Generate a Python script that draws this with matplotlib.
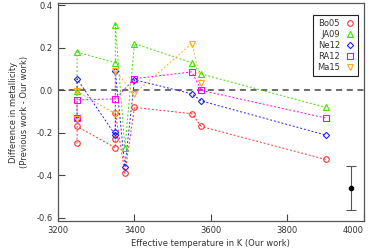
import matplotlib
matplotlib.use("Agg")
import matplotlib.pyplot as plt

# Data: (Teff, difference) for each comparison work, in the order they are joined
bo05_t = [3250, 3250, 3350, 3350, 3350, 3375, 3400, 3550, 3575, 3900]
bo05_d = [-0.25, -0.17, -0.27, -0.23, -0.105, -0.39, -0.08, -0.11, -0.17, -0.325]

ja09_t = [3250, 3250, 3350, 3350, 3375, 3400, 3550, 3575, 3900]
ja09_d = [-0.005, 0.18, 0.13, 0.31, -0.27, 0.22, 0.13, 0.077, -0.08]

ne12_t = [3250, 3250, 3350, 3350, 3350, 3375, 3400, 3550, 3575, 3900]
ne12_d = [-0.135, 0.054, -0.21, -0.195, 0.09, -0.36, 0.05, -0.016, -0.05, -0.21]

ra12_t = [3250, 3250, 3350, 3400, 3550, 3575, 3900]
ra12_d = [-0.13, -0.045, -0.04, 0.055, 0.087, 0.0, -0.13]

ma15_t = [3250, 3250, 3350, 3350, 3400, 3550, 3575]
ma15_d = [-0.135, -0.005, -0.11, 0.09, -0.015, 0.22, 0.035]

# typical uncertainty
err_t = 3965
err_d = -0.46
err_size = 0.105

plt.rcParams['font.family'] = 'DejaVu Sans'
plt.rcParams['font.size'] = 6
txt = '#333333'

fig = plt.figure(figsize=(3.74, 2.52), dpi=100)
ax = fig.add_axes([0.155, 0.123, 0.818, 0.864])

series = [
    ('Bo05', bo05_t, bo05_d, 'o', '#ff3030'),
    ('JA09', ja09_t, ja09_d, '^', '#3ee000'),
    ('Ne12', ne12_t, ne12_d, 'D', '#2020ff'),
    ('RA12', ra12_t, ra12_d, 's', '#ff00ff'),
    ('Ma15', ma15_t, ma15_d, 'v', '#ffaa22'),
]

ax.axhline(0, color='#444444', lw=1.1, ls=(0, (4, 3)), zorder=1)

for name, t, d, m, c in series:
    ms = 3.2 if m == 'D' else 4
    ax.plot(t, d, ls=(0, (2, 2)), lw=0.7, color=c, zorder=2)
    ax.plot(t, d, ls='none', marker=m, ms=ms, mfc='none', mec=c, mew=0.8,
            label=name, zorder=3)

ax.errorbar([err_t], [err_d], yerr=[err_size], fmt='o', color='black',
            ms=3, ecolor='#555555', elinewidth=0.8, capsize=3.5, capthick=0.8)

ax.set_xlim(3200, 4000)
ax.set_ylim(-0.615, 0.41)
ax.set_xticks([3200, 3400, 3600, 3800, 4000])
ax.set_yticks([0.4, 0.2, 0.0, -0.2, -0.4, -0.6])
ax.set_yticklabels(['0.4', '0.2', '0.0', '-0.2', '-0.4', '-0.6'])
ax.tick_params(direction='in', length=5, width=0.8, colors='#444444',
               labelcolor=txt, top=False, right=False)
ax.get_xticklabels()[-1].set_horizontalalignment('right')

for s in ax.spines.values():
    s.set_color('#555555')
    s.set_linewidth(0.9)

ax.set_xlabel('Effective temperature in K (Our work)', color=txt, labelpad=3)
ax.set_ylabel('Difference in metallicity\n(Previous work - Our work)',
              color=txt, labelpad=6)

leg = ax.legend(loc='upper right', markerfirst=False, handlelength=1.0,
                handletextpad=0.7, borderpad=0.45, labelspacing=0.25,
                borderaxespad=0, fancybox=False, framealpha=1,
                edgecolor='#222222', bbox_to_anchor=(0.98, 0.945))
leg.get_frame().set_linewidth(0.8)
for t in leg.get_texts():
    t.set_color(txt)

fig.savefig('out.png', dpi=100)
